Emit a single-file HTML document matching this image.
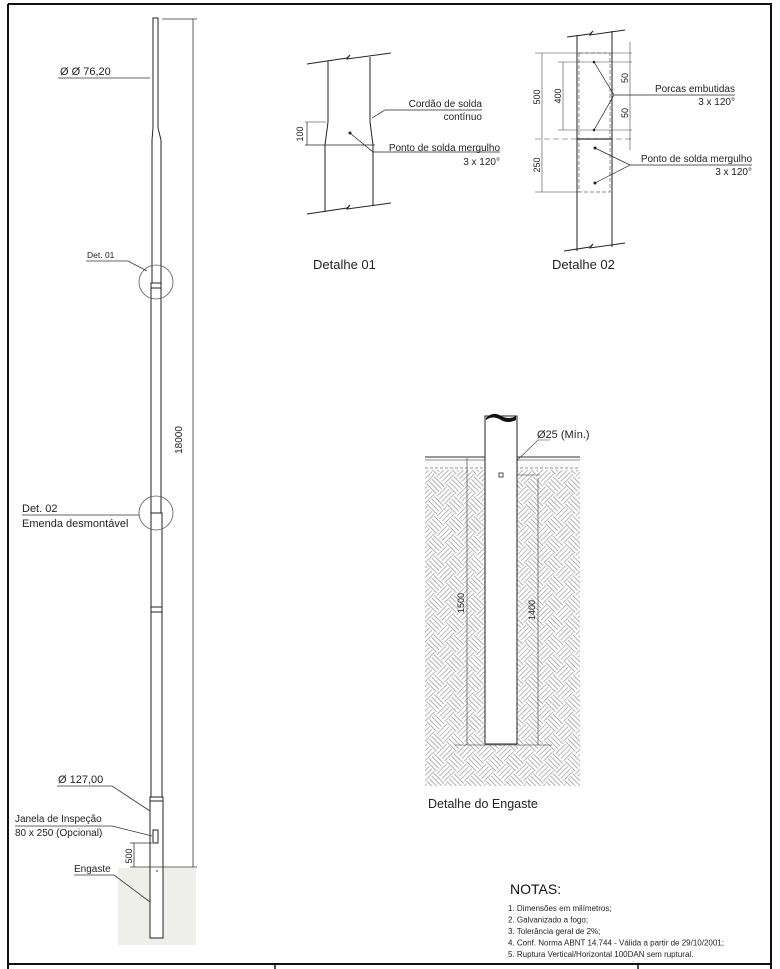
<!DOCTYPE html>
<html><head><meta charset="utf-8"><style>
html,body{margin:0;padding:0;background:#fff;}
svg{display:block;font-family:"Liberation Sans",sans-serif;}
</style></head><body>
<svg width="780" height="969" viewBox="0 0 780 969" xmlns="http://www.w3.org/2000/svg">
<defs>
<pattern id="hatch" width="28" height="28" patternUnits="userSpaceOnUse" patternTransform="rotate(45)">
<rect width="28" height="28" fill="#fff"/>
<g stroke="#b0b0b0" stroke-width="0.9" fill="none">
<path d="M0 2 H14 M0 5.5 H14 M0 9 H14 M0 12.5 H14"/>
<path d="M16 0 V14 M19.5 0 V14 M23 0 V14 M26.5 0 V14"/>
<path d="M2 14 V28 M5.5 14 V28 M9 14 V28 M12.5 14 V28"/>
<path d="M14 16 H28 M14 19.5 H28 M14 23 H28 M14 26.5 H28"/>
</g>
</pattern>
</defs>
<path d="M8 4 H771 V969 M8 4 V969" stroke="#111" stroke-width="2" fill="none"/>
<line x1="8" y1="964" x2="771" y2="964" stroke="#111" stroke-width="2"/>
<line x1="275" y1="964" x2="275" y2="969" stroke="#111" stroke-width="1.5"/>
<line x1="638" y1="964" x2="638" y2="969" stroke="#111" stroke-width="1.5"/>

<rect x="118" y="868" width="78" height="77" fill="#eeeeea"/>
<g stroke="#222" stroke-width="1" fill="#fff">
<path d="M153 18 H158 V128 L161 140 V283 H152 V140 L153 128 Z"/>
<rect x="151" y="283" width="10" height="230"/>
<line x1="151" y1="288" x2="161" y2="288"/>
<rect x="151" y="513" width="11" height="94"/>
<path d="M151 607 H162 V797 H151 Z"/>
<line x1="151" y1="612" x2="162" y2="612"/>
<path d="M150 797 H163 V938 H150 Z"/>
<line x1="150" y1="801" x2="163" y2="801"/>
<rect x="153" y="830" width="5" height="13"/>
</g>
<circle cx="156" cy="282" r="17" stroke="#555" fill="none" stroke-width="0.8"/>
<circle cx="156" cy="513" r="17" stroke="#555" fill="none" stroke-width="0.8"/>
<circle cx="157" cy="871" r="0.8" fill="#222"/>
<g stroke="#333" stroke-width="0.8" fill="none">
<line x1="162" y1="19" x2="197" y2="19"/>
<line x1="193" y1="19" x2="193" y2="867"/>
<line x1="130" y1="867" x2="197" y2="867"/>
<line x1="130" y1="843" x2="152" y2="843"/>
<line x1="134" y1="843" x2="134" y2="867"/>
<path d="M58 78 H150"/>
<path d="M86 261 H128 L147 271"/>
<path d="M22 515 H139"/>
<path d="M57 786 H112 L150 811"/>
<path d="M15 826 H112 L152 836"/>
<path d="M74 875 H114 L150 902"/>
</g>
<text x="182" y="440" font-size="10" transform="rotate(-90 182 440)" text-anchor="middle" fill="#222">18000</text>
<text x="132" y="856" font-size="9" transform="rotate(-90 132 856)" text-anchor="middle" fill="#222">500</text>
<g fill="#222" font-size="11">
<text x="60" y="75">Ø Ø 76,20</text>
<text x="87" y="258" font-size="8.5">Det. 01</text>
<text x="22" y="512">Det. 02</text>
<text x="22" y="527">Emenda desmontável</text>
<text x="58" y="783">Ø 127,00</text>
<text x="15" y="822" font-size="10">Janela de Inspeção</text>
<text x="15" y="836" font-size="10">80 x 250 (Opcional)</text>
<text x="74" y="872" font-size="10">Engaste</text>
</g>

<g stroke="#222" stroke-width="1" fill="none">
<path d="M307 64 L347 58 L350 55 L347 59 L391 53"/>
<path d="M307 214 L347 208 L350 205 L347 209 L391 203"/>
<path d="M328 61 V122 L325 145 V212"/>
<path d="M370 57 V122 L373 145 V206"/>
<line x1="305" y1="145" x2="375" y2="145" stroke-width="0.8"/>
<line x1="305" y1="122" x2="326" y2="122" stroke-width="0.6"/>
<line x1="307" y1="122" x2="307" y2="145" stroke-width="0.7"/>
<path d="M350 133 L373 152 H500" stroke-width="0.7"/>
<path d="M372 118 L385 110 H482" stroke-width="0.7"/>
</g>
<circle cx="350" cy="133" r="1.5" fill="#222"/>
<text x="303" y="134" font-size="9" transform="rotate(-90 303 134)" text-anchor="middle" fill="#222">100</text>
<g fill="#222" font-size="10" text-anchor="end">
<text x="482" y="107">Cordão de solda</text>
<text x="482" y="120">contínuo</text>
<text x="500" y="151">Ponto de solda mergulho</text>
<text x="500" y="165">3 x 120°</text>
</g>
<text x="313" y="269" font-size="13" fill="#222">Detalhe 01</text>

<g stroke="#222" stroke-width="1" fill="none">
<path d="M567 37 L590 34 L593 31 L590 35 L625 30"/>
<path d="M564 251 L590 247 L593 244 L590 248 L625 243"/>
<line x1="577" y1="35" x2="577" y2="251"/>
<line x1="612" y1="31" x2="612" y2="247"/>
<line x1="577" y1="139" x2="612" y2="139" stroke-width="1.3"/>
<rect x="579" y="53" width="31" height="139" stroke-dasharray="4 2" stroke="#666" stroke-width="0.7"/>
<g stroke-width="0.6" stroke="#444">
<line x1="535" y1="53" x2="632" y2="53"/>
<line x1="558" y1="62" x2="632" y2="62"/>
<line x1="558" y1="130" x2="632" y2="130"/>
<line x1="535" y1="139" x2="632" y2="139" stroke-dasharray="6 3"/>
<line x1="535" y1="192" x2="579" y2="192"/>
<line x1="542" y1="53" x2="542" y2="192"/>
<line x1="563" y1="62" x2="563" y2="130"/>
<line x1="630" y1="42" x2="630" y2="150"/>
</g>
<path d="M594 62 L614 95 L594 130 M614 95 H735" stroke-width="0.7"/>
<path d="M595 148 L630 165 L595 183 M630 165 H752" stroke-width="0.7"/>
</g>
<g fill="#222"><circle cx="594" cy="62" r="1.3"/><circle cx="594" cy="130" r="1.3"/><circle cx="595" cy="148" r="1.5"/><circle cx="595" cy="183" r="1.5"/></g>
<g fill="#222" font-size="9" text-anchor="middle">
<text x="540" y="97" transform="rotate(-90 540 97)">500</text>
<text x="561" y="96" transform="rotate(-90 561 96)">400</text>
<text x="628" y="78" transform="rotate(-90 628 78)">50</text>
<text x="628" y="113" transform="rotate(-90 628 113)">50</text>
<text x="540" y="165" transform="rotate(-90 540 165)">250</text>
</g>
<g fill="#222" font-size="10" text-anchor="end">
<text x="735" y="92">Porcas embutidas</text>
<text x="735" y="105">3 x 120°</text>
<text x="752" y="162">Ponto de solda mergulho</text>
<text x="752" y="175">3 x 120°</text>
</g>
<text x="552" y="269" font-size="13" fill="#222">Detalhe 02</text>

<rect x="425" y="470" width="155" height="316" fill="url(#hatch)"/>
<rect x="425" y="458" width="155" height="12" fill="#fafafa"/>
<g stroke="#333" fill="none">
<line x1="425" y1="457" x2="580" y2="457" stroke-width="1"/>
<line x1="425" y1="460" x2="580" y2="460" stroke-width="0.5"/>
<line x1="425" y1="468" x2="580" y2="468" stroke-width="0.5" stroke-dasharray="3 2"/>
<line x1="467" y1="458" x2="467" y2="745" stroke-width="0.6"/>
<line x1="538" y1="478" x2="538" y2="745" stroke-width="0.6"/>
<line x1="455" y1="745" x2="552" y2="745" stroke-width="0.6"/>
<line x1="502" y1="475" x2="540" y2="475" stroke-width="0.6"/>
<path d="M502 475 L538 440 H550" stroke-width="0.6"/>
</g>
<rect x="485" y="416" width="32" height="328" fill="#fff" stroke="#222" stroke-width="1"/>
<path d="M486 418 Q493 411 501 416 Q509 420 516 416 L516 420 Q508 424 501 420 Q493 415 486 420 Z" fill="#111"/>
<rect x="499" y="473" width="4" height="4" fill="#fff" stroke="#222" stroke-width="0.8"/>
<text x="537" y="438" font-size="11" fill="#222">Ø25 (Mín.)</text>
<text x="464" y="603" font-size="9" transform="rotate(-90 464 603)" text-anchor="middle" fill="#222">1500</text>
<text x="535" y="610" font-size="9" transform="rotate(-90 535 610)" text-anchor="middle" fill="#222">1400</text>
<text x="428" y="808" font-size="12.5" fill="#222">Detalhe do Engaste</text>

<text x="510" y="894" font-size="14" fill="#111">NOTAS:</text>
<g fill="#222" font-size="8">
<text x="508" y="911">1. Dimensões em milímetros;</text>
<text x="508" y="922.5">2. Galvanizado a fogo;</text>
<text x="508" y="934">3. Tolerância geral de 2%;</text>
<text x="508" y="945.5">4. Conf. Norma ABNT 14.744 - Válida a partir de 29/10/2001;</text>
<text x="508" y="957">5. Ruptura Vertical/Horizontal 100DAN sem ruptural.</text>
</g>
</svg>
</body></html>
